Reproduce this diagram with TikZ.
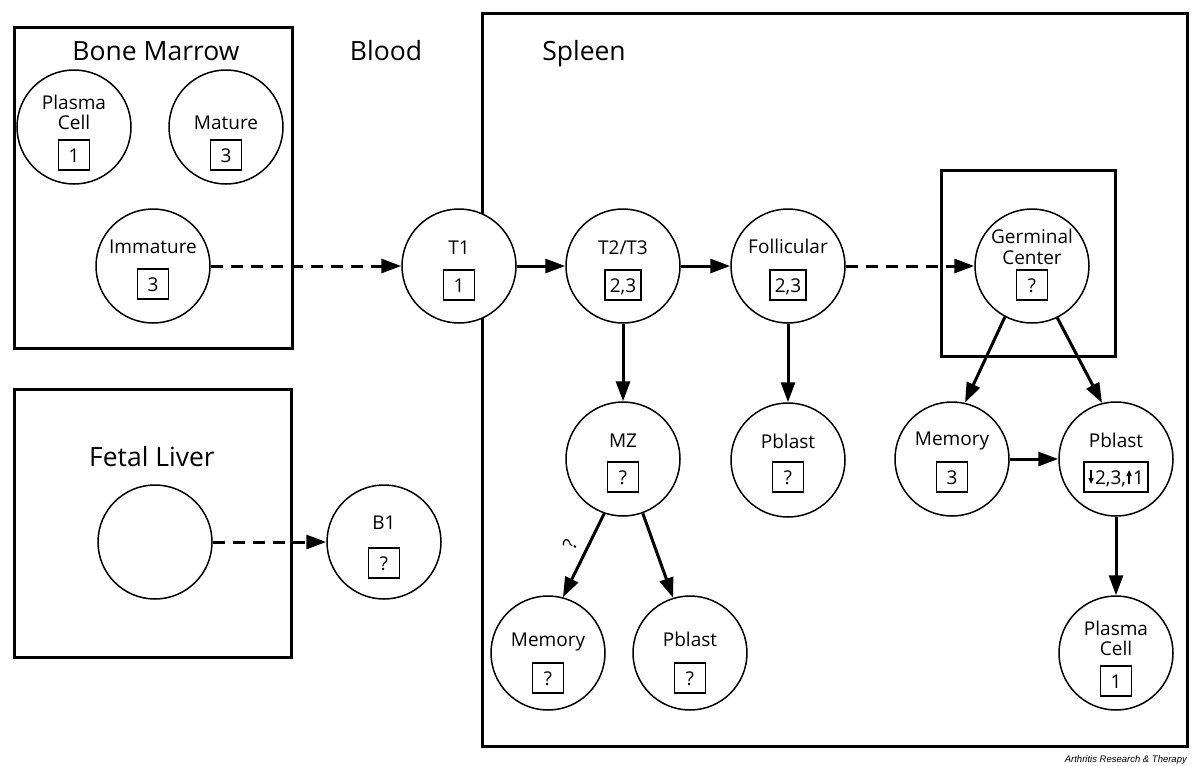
\documentclass[tikz,border=0pt]{standalone}
\usepackage{fontspec}
\setmainfont{Open Sans}
\newfontfamily\capfont{Liberation Sans}
\usetikzlibrary{arrows.meta,calc}
\newcommand\mydn{\kern0.5pt\tikz[baseline=0pt]\draw[line width=1.3pt,-{Triangle[length=6pt,width=5pt]}] (0pt,14pt) -- (0pt,0pt);\kern1.5pt}
\newcommand\myup{\kern0.5pt\tikz[baseline=0pt]\draw[line width=1.3pt,-{Triangle[length=6pt,width=5pt]}] (0pt,0pt) -- (0pt,14pt);\kern1.5pt}
% name, x, y, label, box, label baseline offset, box offset
\newcommand\cellone[7]{%
  \node[cell] (#1) at (#2,#3) {};
  \node[lbl] (#1-l) at ($(#1)+(0,#6)$) {#4};
  \node[numbox] (#1-b) at ($(#1)+(0,#7)$) {#5};}
\newcommand\celltwo[6]{%
  \node[cell] (#1) at (#2,#3) {};
  \node[lbl] (#1-l) at ($(#1)+(0,-18)$) {#4};
  \node[lbl] (#1-m) at ($(#1)+(0,2.5)$) {#5};
  \node[numbox] (#1-b) at ($(#1)+(0,28)$) {#6};}
\begin{document}
\begin{tikzpicture}[x=1pt,y=-1pt,
  cell/.style={circle, draw, line width=1.5pt, fill=white, minimum size=114pt, inner sep=0pt},
  lbl/.style={font=\fontsize{19}{21}\selectfont, inner sep=0pt, anchor=base},
  numbox/.style={draw, line width=1.5pt, font=\fontsize{19}{21}\selectfont, inner xsep=5pt, inner ysep=8pt, text height=14pt, text depth=0pt, minimum width=31pt},
  region/.style={draw, line width=3pt},
  title/.style={font=\fontsize{26.5}{30}\selectfont, anchor=base, inner sep=0pt},
  arr/.style={line width=3pt, -{Triangle[length=20pt,width=14pt]}},
  darr/.style={arr, dash pattern=on 12pt off 8pt}]
\useasboundingbox (0,0) rectangle (1200,766);
% regions
\draw[region] (14,27) rectangle (292,348);
\draw[region] (14,389) rectangle (291,657);
\draw[region] (482,13) rectangle (1187,746);
\draw[region] (941,170) rectangle (1115,356);
% titles
\node[title] (tbm) at (156,60) {Bone Marrow};
\node[title] (tbl) at (386,60) {Blood};
\node[title] (tsp) at (584,60) {Spleen};
\node[title] (tfl) at (152,466) {Fetal Liver};
% cells
\celltwo{bmpc}{74}{127}{Plasma}{Cell}{1}
\cellone{bmmat}{226}{127}{Mature}{3}{2}{28}
\cellone{imm}{153}{266}{Immature}{3}{-13}{18}
\cellone{t1}{459}{266}{T1}{1}{-12}{19}
\cellone{t23}{623}{266}{T2/T3}{2,3}{-12}{19}
\cellone{fol}{788}{266}{Follicular}{2,3}{-13}{19}
\node[cell] (gc) at (1032,266) {};
\node[lbl] (gc-l) at ($(gc)+(0,-23)$) {Germinal};
\node[lbl] (gc-m) at ($(gc)+(0,-2)$) {Center};
\node[numbox] (gc-b) at ($(gc)+(0,19)$) {?};
\cellone{mz}{623}{459}{MZ}{?}{-12}{18}
\cellone{pbf}{788}{460}{Pblast}{?}{-12}{17}
\cellone{memr}{952}{459}{Memory}{3}{-14}{18}
\node[cell] (pbr) at (1116,459) {};
\node[lbl] (pbr-l) at ($(pbr)+(0,-12)$) {Pblast};
\node[numbox, line width=2pt, inner xsep=4pt] (pbr-b) at ($(pbr)+(0,18)$) {\mydn2,3,\myup1};
\node[cell] (fl) at (155,542) {};
\cellone{b1}{384}{542}{B1}{?}{-13}{21}
\cellone{memz}{548}{653}{Memory}{?}{-7}{25}
\cellone{pbz}{690}{653}{Pblast}{?}{-7}{25}
\celltwo{pcr}{1116}{653}{Plasma}{Cell}{1}
% connectors
\draw[darr] (imm) -- (t1);
\draw[arr] (t1) -- (t23);
\draw[arr] (t23) -- (fol);
\draw[darr] (fol) -- (gc);
\draw[arr] (t23) -- (mz);
\draw[arr] (fol) -- (pbf);
\draw[arr] (gc.242) -- (memr.77);
\draw[arr] (gc.296) -- (pbr.104);
\draw[arr] (memr) -- (pbr);
\draw[arr] (pbr) -- (pcr);
\draw[arr] (mz.251) -- (memz.75);
\draw[arr] (mz.290) -- (pbz.107);
\draw[darr] (fl) -- (b1);
\node[font=\fontsize{19}{21}\selectfont, rotate=70, inner sep=0pt] (q) at (570,544) {?};
\node[anchor=base east, font=\capfont\itshape\fontsize{9.5}{11}\selectfont, inner sep=0pt] (cap) at (1187,762) {Arthritis Research \& Therapy};
\end{tikzpicture}
\end{document}
